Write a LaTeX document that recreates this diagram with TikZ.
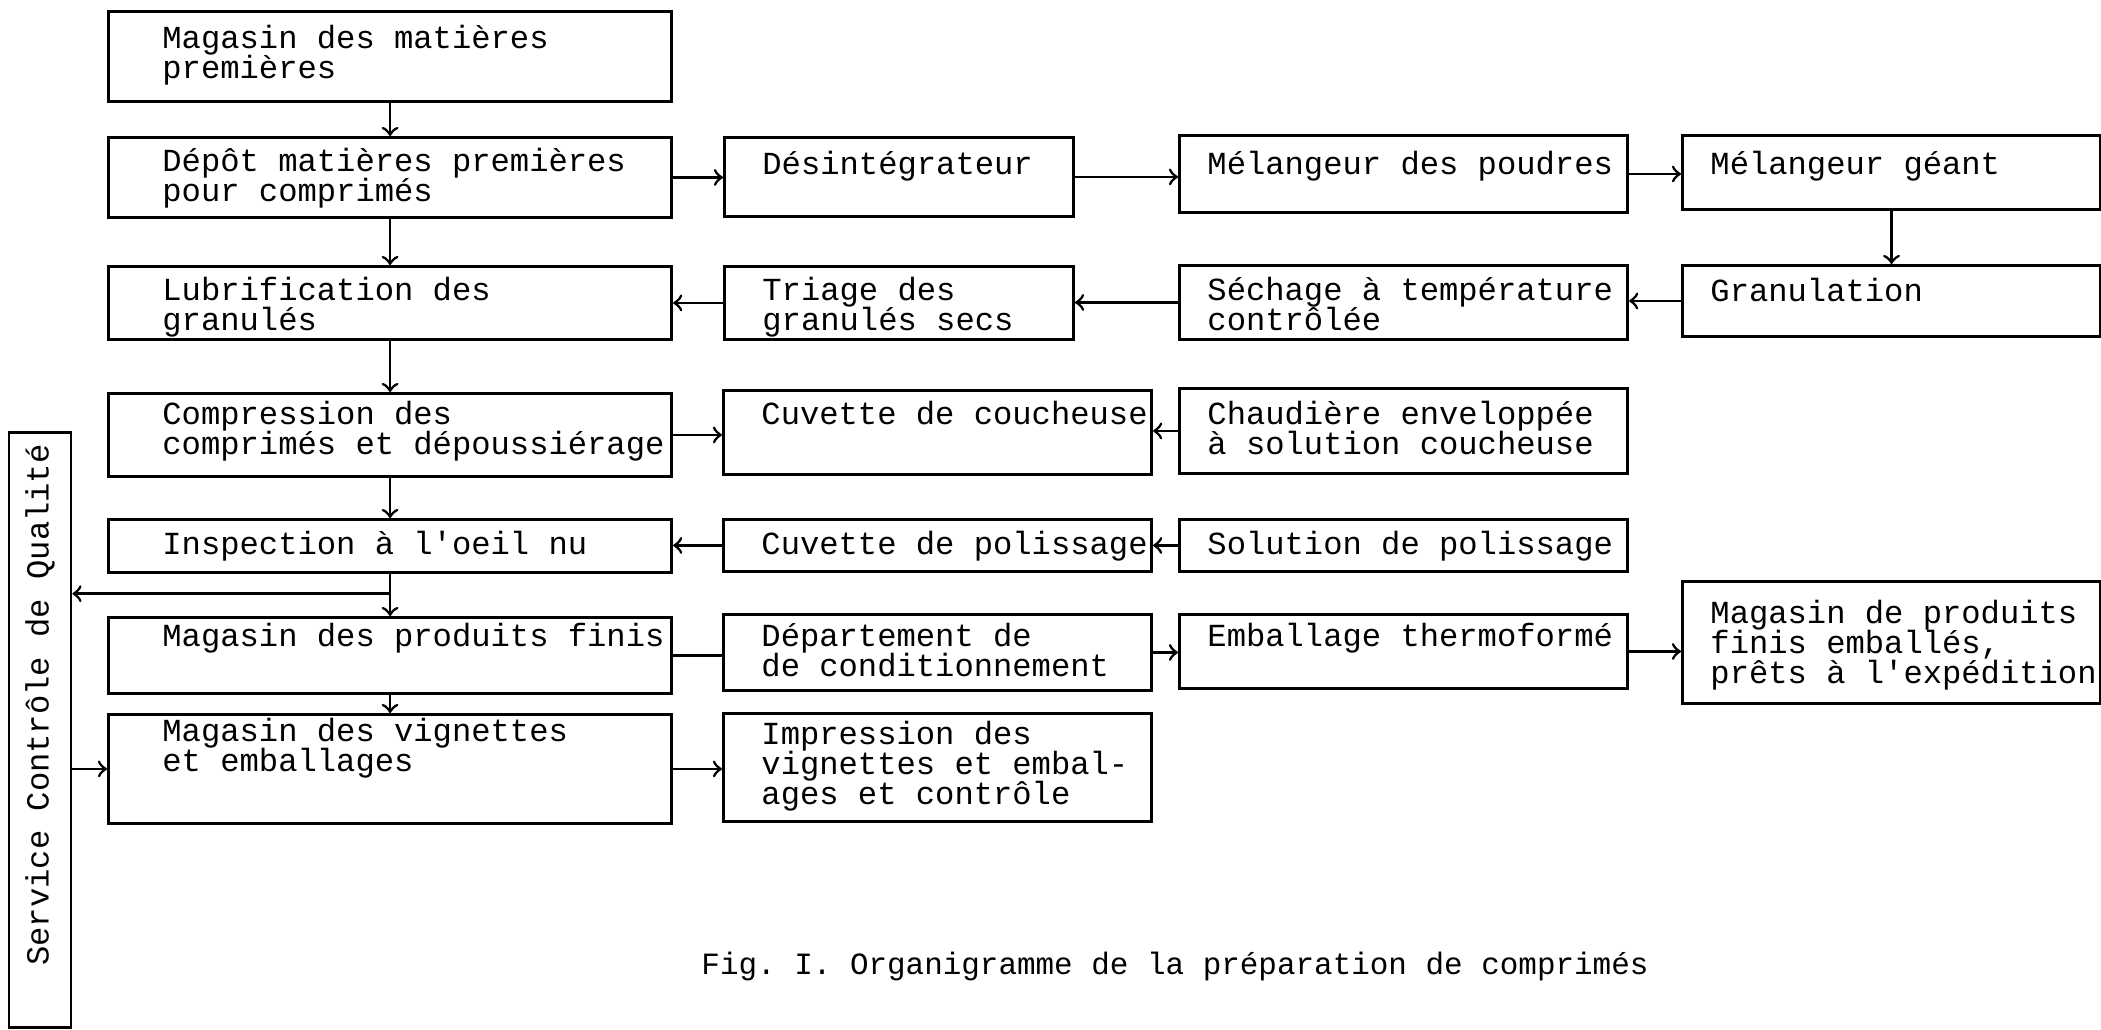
\documentclass[tikz,border=0pt]{standalone}
\usepackage{fontspec}
\setmonofont{Liberation Mono}
\newcommand\boxfont{\ttfamily\fontsize{9.15}{8.5}\selectfont}
\newcommand\capfont{\ttfamily\fontsize{8.8}{10}\selectfont}
\begin{document}
\begin{tikzpicture}
        [x=0.01cm, y=-0.01cm,
        blk/.style={draw, thick, anchor=north west, align=left, inner xsep=0pt, inner ysep=0pt, font=\boxfont},
        col/.style 2 args={text width=#1, execute at begin node={\leftskip=#2\spaceskip=\fontdimen2\font\xspaceskip=\spaceskip\lineskiplimit=-10pt\relax}},
        colA/.style={col={5.63cm}{0.54cm}},
        colB/.style={col={3.49cm}{0.38cm}},
        colC/.style={col={4.28cm}{0.38cm}},
        colD/.style={col={4.48cm}{0.28cm}},
        colE/.style={col={4.18cm}{0.28cm}},
        hd/.style 2 args={text height=#1, text depth=#2}]
        \useasboundingbox (0,0) rectangle (2101,1029);
        
        % first column
        \node[blk, colA, hd={0.37cm}{0.53cm}] (magmp) at (107,10) {Magasin des matières\\premières};
        \node[blk, colA, hd={0.34cm}{0.46cm}] (depot) at (107,136) {Dépôt matières premières\\pour comprimés};
        \node[blk, colA, hd={0.34cm}{0.39cm}] (lubrif) at (107,265) {Lubrification des\\granulés};
        \node[blk, colA, hd={0.31cm}{0.52cm}] (compr) at (107,392) {Compression des\\comprimés et dépoussiérage};
        \node[blk, colA, hd={0.35cm}{0.18cm}] (insp) at (107,518) {Inspection à l'oeil nu};
        \node[blk, colA, hd={0.29cm}{0.47cm}] (magpf) at (107,616) {Magasin des produits finis};
        \node[blk, colA, hd={0.27cm}{0.82cm}] (magvig) at (107,713) {Magasin des vignettes\\et emballages};
        
        % second column
        \node[blk, colB, hd={0.37cm}{0.42cm}] (desint) at (723,136) {Désintégrateur};
        \node[blk, colB, hd={0.34cm}{0.39cm}] (triage) at (723,265) {Triage des\\granulés secs};
        \node[blk, colC, hd={0.34cm}{0.50cm}] (cuvcouch) at (722,389) {Cuvette de coucheuse};
        \node[blk, colC, hd={0.35cm}{0.17cm}] (cuvpol) at (722,518) {Cuvette de polissage};
        \node[blk, colC, hd={0.32cm}{0.44cm}] (depart) at (722,613) {Département de\\de conditionnement};
        \node[blk, colC, hd={0.31cm}{0.77cm}] (impr) at (722,712) {Impression des\\vignettes et embal-\\ages et contrôle};
        
        % third column
        \node[blk, colD, hd={0.39cm}{0.38cm}] (melpoud) at (1178,134) {Mélangeur des poudres};
        \node[blk, colD, hd={0.35cm}{0.39cm}] (sechage) at (1178,264) {Séchage à température\\contrôlée};
        \node[blk, colD, hd={0.36cm}{0.49cm}] (chaud) at (1178,387) {Chaudière enveloppée\\à solution coucheuse};
        \node[blk, colD, hd={0.35cm}{0.17cm}] (solpol) at (1178,518) {Solution de polissage};
        \node[blk, colD, hd={0.32cm}{0.42cm}] (emball) at (1178,613) {Emballage thermoformé};
        
        % fourth column
        \node[blk, colE, hd={0.39cm}{0.35cm}] (melgeant) at (1681,134) {Mélangeur géant};
        \node[blk, colE, hd={0.36cm}{0.35cm}] (granul) at (1681,264) {Granulation};
        \node[blk, colE, hd={0.42cm}{0.80cm}] (magemb) at (1681,580) {Magasin de produits\\finis emballés,\\prêts à l'expédition};
        
        % quality control
        \node[draw, thick, rotate=90, minimum width=5.94cm, minimum height=0.62cm, inner sep=0pt, font=\boxfont] (scq) at (40,730) {\hspace*{0.5cm}Service Contrôle de Qualité};
        
        \node[font=\capfont] (cap) at (1175,966) {Fig. I. Organigramme de la préparation de comprimés};
        
        \draw[thick, ->] (magmp) -- (depot);
        \draw[thick, ->] (depot) -- (lubrif);
        \draw[thick, ->] (lubrif) -- (compr);
        \draw[thick, ->] (compr) -- (insp);
        \draw[thick, ->] (insp) -- coordinate[pos=0.47] (branch) (magpf);
        \draw[thick, ->] (branch) -- (branch -| scq.south);
        \draw[thick, ->] (magpf) -- (magvig);
        \draw[thick, ->] (scq.south |- magvig.west) -- (magvig.west);
        
        \draw[thick, ->] (depot.east) -- (depot.east -| desint.west);
        \draw[thick, ->] (desint.east) -- (desint.east -| melpoud.west);
        \draw[thick, ->] (melpoud.east) -- (melpoud.east -| melgeant.west);
        \draw[thick, ->] (melgeant) -- (granul);
        \draw[thick, ->] (granul.west) -- (granul.west -| sechage.east);
        \draw[thick, ->] (sechage.west) -- (sechage.west -| triage.east);
        \draw[thick, ->] (triage.west) -- (triage.west -| lubrif.east);
        
        \draw[thick, ->] (compr.east) -- (compr.east -| cuvcouch.west);
        \draw[thick, ->] (chaud.west) -- (chaud.west -| cuvcouch.east);
        \draw[thick, ->] (cuvpol.west) -- (cuvpol.west -| insp.east);
        \draw[thick, ->] (solpol.west) -- (solpol.west -| cuvpol.east);
        \draw[thick] (magpf.east) -- (magpf.east -| depart.west);
        \draw[thick, ->] (depart.east) -- (depart.east -| emball.west);
        \draw[thick, ->] (emball.east) -- (emball.east -| magemb.west);
        \draw[thick, ->] (magvig.east) -- (magvig.east -| impr.west);
    \end{tikzpicture}
\end{document}
